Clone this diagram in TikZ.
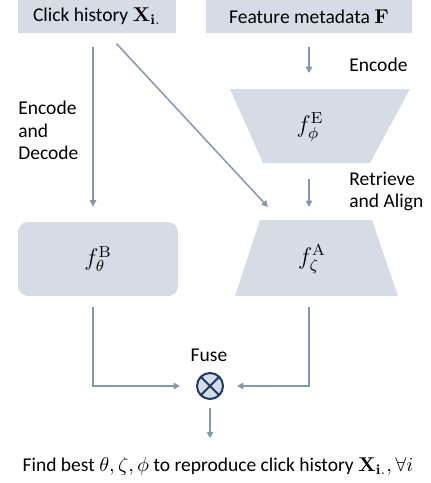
\documentclass[tikz,border=0pt]{standalone}
\usepackage{amsmath}
\usepackage{amssymb}
\usepackage[no-math]{fontspec}
\setmainfont{Carlito}
\usetikzlibrary{calc, positioning}
\usetikzlibrary{arrows.meta}

\definecolor{boxfill}{HTML}{D6DCE5}
\definecolor{arrowcol}{HTML}{8497B0}
\definecolor{navy}{HTML}{1F3864}

\tikzset{
  box/.style={fill=boxfill, inner sep=0pt, minimum height=16.5pt},
  model/.style={inner sep=0pt, font=\fontsize{11.5}{13}\selectfont},
  arr/.style={draw=arrowcol, line width=0.75pt, -{Triangle[width=3.2pt,length=3.2pt]}},
  lbl/.style={inner sep=0pt, align=left, anchor=west}
}

\begin{document}
\fontsize{9.75}{11.25}\selectfont
\begin{tikzpicture}[x=0.5pt,y=-0.5pt]
\useasboundingbox (0,0) rectangle (431,483);

% inputs
\node[box, minimum width=79pt] (click) at (97,16.5) {Click history $\mathbf{X}_{\mathbf{i}.}$};
\node[box, minimum width=103pt] (meta) at (309,16.5) {Feature metadata $\mathbf{F}$};

% models
\node[box, rounded corners=5pt, minimum width=80pt, minimum height=37pt] (fB) at (98,259) {};
\node[model] (lblB) at (fB) {$f_{\theta}^{\mathrm{B}}$};
\fill[boxfill] (230,89) coordinate (E1) -- (410,89) -- (370,163) coordinate (E3) -- (263,163) -- cycle;
\node[model] (fE) at (310,127) {$f_{\phi}^{\mathrm{E}}$};
\fill[boxfill] (260,220) coordinate (A1) -- (372,220) -- (398,296) -- (235,296) coordinate (A4) -- cycle;
\node[model] (fA) at (312,259) {$f_{\zeta}^{\mathrm{A}}$};

% fusion
\node[circle, draw=navy, fill=boxfill, line width=1pt, minimum size=13pt, inner sep=0pt,
  path picture={\draw[navy, line width=1pt]
    (path picture bounding box.north west) -- (path picture bounding box.south east)
    (path picture bounding box.north east) -- (path picture bounding box.south west);}]
  (fuse) at (210,386) {};
\node (fuselbl) at (209,355) {Fuse};
\node (goal) at (218,466) {Find best $\theta,\zeta,\phi$ to reproduce click history $\mathbf{X}_{\mathbf{i}.},\forall i$};

% side labels
\node[lbl] (enc) at (349,65) {Encode};
\node[lbl] (encdec) at (18,130.5) {Encode\\and\\Decode};
\node[lbl] (retr) at (349,191.5) {Retrieve\\and Align};

% connectors
\draw[arr, shorten <=7pt, shorten >=7.5pt] ([xshift=-2pt]click.south) -- ([xshift=-2pt]click.south |- fB.north);
\draw[arr, shorten <=7pt] ([xshift=5pt]click.south) -- ($(A1)+(8,-13)$);
\draw[arr, shorten <=7pt, shorten >=8pt] (meta.south) -- (meta.south |- E1);
\draw[arr, shorten <=8pt, shorten >=6.5pt] (meta.south |- E3) -- (meta.south |- A1);
\draw[arr, shorten <=5.5pt, shorten >=8pt] ([xshift=-2.5pt]fB.south) |- (fuse);
\draw[arr, shorten <=5.5pt, shorten >=6.5pt] (meta.south |- A4) |- (fuse);
\draw[arr, shorten <=4pt, shorten >=6pt] (fuse.south) -- (fuse.south |- goal.north);
\end{tikzpicture}
\end{document}
